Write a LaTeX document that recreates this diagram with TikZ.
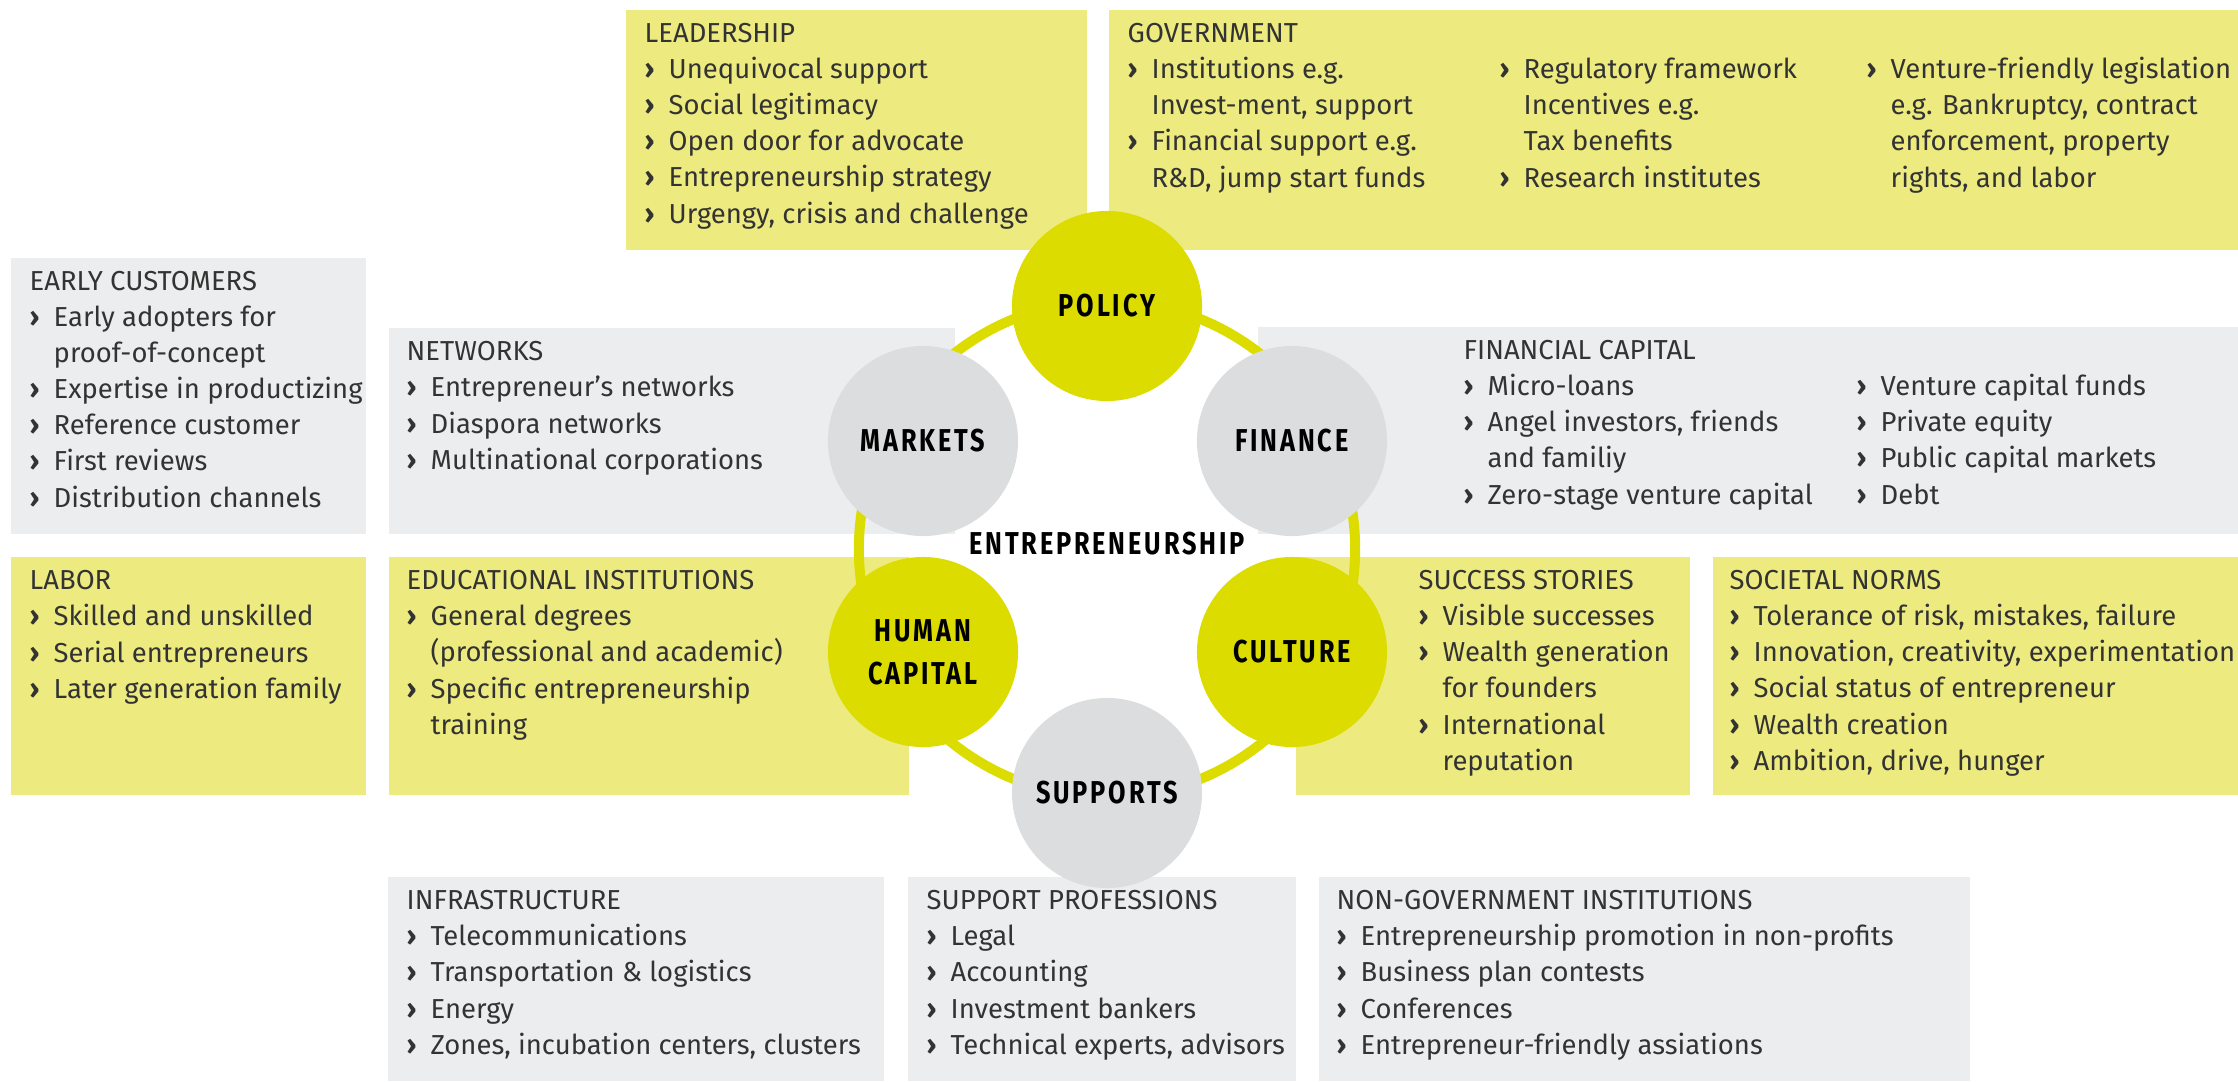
\documentclass[tikz,border=0pt]{standalone}
\usepackage{fontspec}
\usepackage{tikz}
\usepackage{xcolor}
\usetikzlibrary{positioning}
\setmainfont{Fira Sans}
\newfontfamily\ringfont[FakeStretch=0.8,LetterSpace=9]{Fira Sans}

\definecolor{lemon}{HTML}{DCDC00}
\definecolor{paleyellow}{HTML}{EDEB80}
\definecolor{palegray}{HTML}{ECEDEE}
\definecolor{midgray}{HTML}{DCDDDF}

\newcommand{\itm}{\makebox[0.24cm][l]{\textbf{›}}}
\newcommand{\cnt}{\hspace*{0.24cm}}

\begin{document}
\begin{tikzpicture}[x=0.01cm, y=-0.01cm,
    % base of a multi-line node = baseline of its last line
    boxtext/.style={anchor=base west, align=left, inner sep=0pt, text=black!80,
        font=\fontsize{7.8}{10.24}\selectfont},
    pillar/.style={circle, minimum size=1.9cm, inner sep=0pt, align=center,
        font=\ringfont\bfseries\fontsize{9}{12.2}\selectfont}]
    \useasboundingbox (0,0) rectangle (2238,1081);

    % Boxes
    \fill[palegray] (11,258) rectangle (366,534);
    \fill[palegray] (389,328) rectangle (955,534);
    \fill[paleyellow] (626,10) rectangle (1087,250);
    \fill[paleyellow] (1109,10) rectangle (2238,250);
    \fill[palegray] (1258,327) rectangle (2238,534);
    \fill[paleyellow] (11,557) rectangle (366,795);
    \fill[paleyellow] (389,557) rectangle (909,795);
    \fill[paleyellow] (1296,557) rectangle (1690,795);
    \fill[paleyellow] (1713,557) rectangle (2238,795);
    \fill[palegray] (388,877) rectangle (884,1081);
    \fill[palegray] (908,877) rectangle (1296,1081);
    \fill[palegray] (1319,877) rectangle (1970,1081);

    % Ring and pillars
    \draw[lemon, line width=0.1cm] (1107,549) circle[radius=2.48cm];
    \node[pillar, fill=lemon] (policy) at (1107,306) {POLICY};
    \node[pillar, fill=midgray] (markets) at (923,441) {MARKETS};
    \node[pillar, fill=midgray] (finance) at (1292,441) {FINANCE};
    \node[pillar, fill=lemon] (human) at (923,652) {HUMAN\\CAPITAL};
    \node[pillar, fill=lemon] (culture) at (1292,652) {CULTURE};
    \node[pillar, fill=midgray] (supports) at (1107,793) {SUPPORTS};
    \node[font=\ringfont\bfseries\fontsize{9}{12}\selectfont] (entre) at (1107,544) {ENTREPRENEURSHIP};

    % Top row
    \node[boxtext] (leadership) at (644,223) {LEADERSHIP\\
        \itm Unequivocal support\\
        \itm Social legitimacy\\
        \itm Open door for advocate\\
        \itm Entrepreneurship strategy\\
        \itm Urgengy, crisis and challenge};
    \node[boxtext] (govA) at (1127,187) {GOVERNMENT\\
        \itm Institutions e.g.\\
        \cnt Invest-ment, support\\
        \itm Financial support e.g.\\
        \cnt R\&D, jump start funds};
    \node[boxtext] (govB) at (1499,187) {\itm Regulatory framework\\
        \cnt Incentives e.g.\\
        \cnt Tax benefits\\
        \itm Research institutes};
    \node[boxtext] (govC) at (1866,187) {\itm Venture-friendly legislation\\
        \cnt e.g. Bankruptcy, contract\\
        \cnt enforcement, property\\
        \cnt rights, and labor};

    % Middle rows
    \node[boxtext] (early) at (29,507) {EARLY CUSTOMERS\\
        \itm Early adopters for\\
        \cnt proof-of-concept\\
        \itm Expertise in productizing\\
        \itm Reference customer\\
        \itm First reviews\\
        \itm Distribution channels};
    \node[boxtext] (networks) at (406,469) {NETWORKS\\
        \itm Entrepreneur's networks\\
        \itm Diaspora networks\\
        \itm Multinational corporations};
    \node[boxtext] (finA) at (1463,504) {FINANCIAL CAPITAL\\
        \itm Micro-loans\\
        \itm Angel investors, friends\\
        \cnt and familiy\\
        \itm Zero-stage venture capital};
    \node[boxtext] (finB) at (1856,504) {\itm Venture capital funds\\
        \itm Private equity\\
        \itm Public capital markets\\
        \itm Debt};
    \node[boxtext] (labor) at (29,698) {LABOR\\
        \itm Skilled and unskilled\\
        \itm Serial entrepreneurs\\
        \itm Later generation family};
    \node[boxtext] (edu) at (406,734) {EDUCATIONAL INSTITUTIONS\\
        \itm General degrees\\
        \cnt (professional and academic)\\
        \itm Specific entrepreneurship\\
        \cnt training};
    \node[boxtext] (success) at (1418,770) {SUCCESS STORIES\\
        \itm Visible successes\\
        \itm Wealth generation\\
        \cnt for founders\\
        \itm International\\
        \cnt reputation};
    \node[boxtext] (norms) at (1729,770) {SOCIETAL NORMS\\
        \itm Tolerance of risk, mistakes, failure\\
        \itm Innovation, creativity, experimentation\\
        \itm Social status of entrepreneur\\
        \itm Wealth creation\\
        \itm Ambition, drive, hunger};

    % Bottom row
    \node[boxtext] (infra) at (406,1054) {INFRASTRUCTURE\\
        \itm Telecommunications\\
        \itm Transportation \& logistics\\
        \itm Energy\\
        \itm Zones, incubation centers, clusters};
    \node[boxtext] (profs) at (926,1054) {SUPPORT PROFESSIONS\\
        \itm Legal\\
        \itm Accounting\\
        \itm Investment bankers\\
        \itm Technical experts, advisors};
    \node[boxtext] (ngo) at (1336,1054) {NON-GOVERNMENT INSTITUTIONS\\
        \itm Entrepreneurship promotion in non-profits\\
        \itm Business plan contests\\
        \itm Conferences\\
        \itm Entrepreneur-friendly assiations};
\end{tikzpicture}
\end{document}
